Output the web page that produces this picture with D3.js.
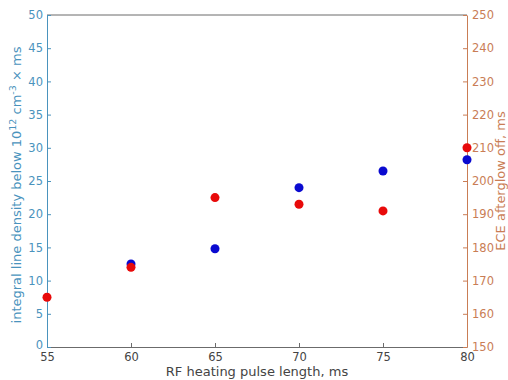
<!DOCTYPE html>
<html>
<head>
<meta charset="utf-8">
<script src="https://cdn.jsdelivr.net/npm/d3@7"></script>
<style>
  body { margin: 0; background: #fff; }
  text { font-family: "DejaVu Sans", sans-serif; }
</style>
</head>
<body>
<div id="chart"></div>
<script>
// pulse lengths, ms
const pulseBlue = [60, 65, 70, 75, 80];
const densityInt = [12.5, 14.8, 24.0, 26.5, 28.2];
const pulseRed = [55, 60, 65, 70, 75, 80];
const eceOff = [165, 174, 195, 193, 191, 210];

const xTicks = [55, 60, 65, 70, 75, 80];
const yLeftTicks = [0, 5, 10, 15, 20, 25, 30, 35, 40, 45, 50];
const yRightTicks = [150, 160, 170, 180, 190, 200, 210, 220, 230, 240, 250];

const W = 508, H = 380;
const margin = {top: 15, right: 41, bottom: 33, left: 47};
const width = W - margin.left - margin.right;
const height = H - margin.top - margin.bottom;

const leftCol = "#4a93bd";
const rightCol = "#c97d55";
const boxCol = "#6b6b6b";

const svg = d3.select("#chart").append("svg")
  .attr("width", W).attr("height", H);
const g = svg.append("g")
  .attr("transform", "translate(" + margin.left + "," + margin.top + ")");

const x = d3.scaleLinear().domain([55, 80]).range([0, width]);
const yL = d3.scaleLinear().domain([0, 50]).range([height, 0]);
const yR = d3.scaleLinear().domain([150, 250]).range([height, 0]);

// top border
g.append("line").attr("x1", 0).attr("x2", width).attr("y1", 0).attr("y2", 0)
  .attr("stroke", boxCol).attr("stroke-width", 1);

// X axis (ticks inward)
const xAxis = g.append("g")
  .attr("transform", "translate(0," + height + ")")
  .call(d3.axisBottom(x).tickValues(xTicks).tickSizeInner(-4).tickSizeOuter(0).tickPadding(6));
xAxis.select(".domain").attr("stroke", boxCol);
xAxis.selectAll(".tick line").attr("stroke", boxCol);
xAxis.selectAll("text").attr("fill", "#444").style("font-size", "11.5px");

// Left axis
const yAxisL = g.append("g")
  .call(d3.axisLeft(yL).tickValues(yLeftTicks).tickSizeInner(-4).tickSizeOuter(0).tickPadding(4));
yAxisL.select(".domain").attr("stroke", leftCol);
yAxisL.selectAll(".tick line").attr("stroke", leftCol);
yAxisL.selectAll("text").attr("fill", leftCol).style("font-size", "11.5px");
// lift the "0" label a touch so it clears the "55" below it
yAxisL.selectAll(".tick text").filter(d => d === 0).attr("dy", "0.1em");

// Right axis
const yAxisR = g.append("g")
  .attr("transform", "translate(" + width + ",0)")
  .call(d3.axisRight(yR).tickValues(yRightTicks).tickSizeInner(-4).tickSizeOuter(0).tickPadding(5));
yAxisR.select(".domain").attr("stroke", rightCol);
yAxisR.selectAll(".tick line").attr("stroke", rightCol);
yAxisR.selectAll("text").attr("fill", rightCol).style("font-size", "11.5px");

// axis labels
svg.append("text")
  .attr("x", margin.left + width / 2).attr("y", 376)
  .attr("text-anchor", "middle").attr("fill", "#444").style("font-size", "13px")
  .text("RF heating pulse length, ms");

const yl = svg.append("text")
  .attr("transform", "translate(21," + (margin.top + height / 2 + 4) + ") rotate(-90)")
  .attr("text-anchor", "middle").attr("fill", leftCol).style("font-size", "13px");
yl.append("tspan").text("integral line density below 10");
yl.append("tspan").attr("dy", -5).style("font-size", "9.5px").text("12");
yl.append("tspan").attr("dy", 5).text(" cm");
yl.append("tspan").attr("dy", -5).style("font-size", "9.5px").text("-3");
yl.append("tspan").attr("dy", 5).text(" \u00d7 ms");

svg.append("text")
  .attr("transform", "translate(505," + (margin.top + height / 2) + ") rotate(-90)")
  .attr("text-anchor", "middle").attr("fill", rightCol).style("font-size", "13px")
  .text("ECE afterglow off, ms");

// points: blue (left axis) first, red (right axis) on top
g.append("g").selectAll("circle")
  .data(pulseBlue.map((p, i) => ({p, v: densityInt[i]})))
  .enter().append("circle")
  .attr("cx", d => x(d.p)).attr("cy", d => yL(d.v))
  .attr("r", 4.5).attr("fill", "#0a0ad0");

g.append("g").selectAll("circle")
  .data(pulseRed.map((p, i) => ({p, v: eceOff[i]})))
  .enter().append("circle")
  .attr("cx", d => x(d.p)).attr("cy", d => yR(d.v))
  .attr("r", 4.5).attr("fill", "#e80a0a");
</script>
</body>
</html>
